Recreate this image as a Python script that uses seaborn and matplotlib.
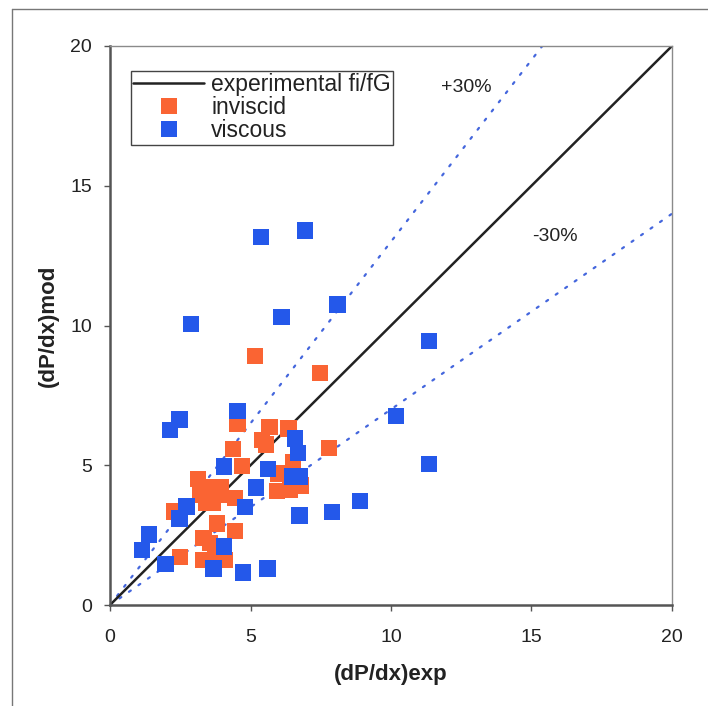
import numpy as np
import pandas as pd
import matplotlib
matplotlib.use("Agg")
import matplotlib.pyplot as plt
import seaborn as sns
from matplotlib.lines import Line2D

# ---------------- data ----------------
viscous_x = [5.37, 6.94, 2.89, 6.11, 8.10, 11.35, 10.18, 11.35, 8.90, 7.90, 6.74,
             5.60, 4.74, 3.68, 4.06, 1.98, 1.13, 1.39, 2.47, 2.73, 2.14, 2.47,
             4.53, 4.06, 4.80, 5.20, 5.63, 6.58, 6.70, 6.50, 6.76]
viscous_y = [13.17, 13.40, 10.05, 10.30, 10.75, 9.45, 6.76, 5.04, 3.72, 3.32, 3.20,
             1.30, 1.17, 1.31, 2.09, 1.47, 1.97, 2.52, 3.09, 3.52, 6.26, 6.64,
             6.95, 4.95, 3.50, 4.21, 4.86, 5.95, 5.43, 4.59, 4.59]

inviscid_x = [5.16, 7.48, 4.53, 5.67, 6.36, 5.40, 5.55, 4.37, 7.79, 4.70, 6.52, 5.99,
              3.14, 3.30, 3.66, 3.95, 3.20, 3.56, 3.86, 3.42, 3.66, 4.45, 5.94, 6.41,
              6.78, 2.28, 3.80, 4.45, 3.32, 3.56, 3.30, 3.74, 4.07, 2.49]
inviscid_y = [8.91, 8.31, 6.49, 6.37, 6.32, 5.90, 5.75, 5.59, 5.62, 4.97, 5.10, 4.71,
              4.50, 4.23, 4.23, 4.23, 3.94, 3.94, 3.94, 3.65, 3.65, 3.82, 4.08, 4.11,
              4.28, 3.35, 2.91, 2.65, 2.40, 2.22, 1.62, 1.72, 1.61, 1.72]

ref_x = [0, 20]          # experimental line y = x
band = 0.30              # +/- 30 %
ticks = [0, 5, 10, 15, 20]

series_names = ["inviscid", "viscous"]
series_colors = {"inviscid": "#FA6433", "viscous": "#2458EA"}

df = pd.concat([
    pd.DataFrame({"exp": inviscid_x, "mod": inviscid_y, "model": "inviscid"}),
    pd.DataFrame({"exp": viscous_x, "mod": viscous_y, "model": "viscous"}),
], ignore_index=True)

# ---------------- style ----------------
sns.set_theme(style="white")
plt.rcParams["font.family"] = ["Liberation Sans", "DejaVu Sans"]

fig = plt.figure(figsize=(7.08, 7.06), dpi=100)
ax = fig.add_axes([110 / 708, 1 - 605 / 706, 562 / 708, 559 / 706])

rx = np.array(ref_x, dtype=float)
dot_color = "#4466DD"
ax.plot(rx, rx * (1 + band), color=dot_color, lw=1.6, ls=(0, (1, 4.2)),
        dash_capstyle="round", zorder=1)
ax.plot(rx, rx * (1 - band), color=dot_color, lw=1.6, ls=(0, (1, 4.2)),
        dash_capstyle="round", zorder=1)
ax.plot(rx, rx, color="#222222", lw=1.8, zorder=2, label="experimental fi/fG")

sns.scatterplot(data=df, x="exp", y="mod", hue="model", hue_order=series_names,
                palette=series_colors, marker="s", s=140, linewidth=0,
                ax=ax, zorder=3)

ax.text(12.67, 18.5, "+30%", fontsize=14, ha="center", va="center", color="#222222")
ax.text(15.84, 13.17, "-30%", fontsize=14, ha="center", va="center", color="#222222")

ax.set_xlim(0, 20)
ax.set_ylim(0, 20)
ax.set_xticks(ticks)
ax.set_yticks(ticks)
ax.tick_params(axis="both", direction="out", length=4, width=1, color="#555555",
               labelsize=14, labelcolor="#222222", left=True, bottom=True)
ax.tick_params(axis="x", pad=13)
ax.tick_params(axis="y", pad=9)

ax.set_xlabel("(dP/dx)exp", fontsize=16, fontweight="bold", color="#222222")
ax.set_ylabel("(dP/dx)mod", fontsize=16, fontweight="bold", color="#222222")
ax.xaxis.set_label_coords(0.5, -0.105)
ax.yaxis.set_label_coords(-0.091, 0.5)

for side in ["left", "bottom"]:
    ax.spines[side].set_color("#555555")
    ax.spines[side].set_linewidth(1.8)
for side in ["top", "right"]:
    ax.spines[side].set_color("#8A8A8A")
    ax.spines[side].set_linewidth(1.0)

handles, labels = ax.get_legend_handles_labels()
leg = ax.legend(handles=handles, labels=labels, loc="upper left",
                bbox_to_anchor=(131 / 708, 1 - 71 / 706), bbox_transform=fig.transFigure,
                borderaxespad=0, fontsize=16.5, frameon=True, fancybox=False,
                edgecolor="#444444", framealpha=1, labelspacing=0.0,
                handlelength=3.1, handletextpad=0.3, borderpad=0.1)
leg.get_frame().set_linewidth(1.0)
for t in leg.get_texts():
    t.set_color("#222222")

# outer frame (top and left edges)
fig.add_artist(Line2D([12 / 708, 1.0], [1 - 9 / 706, 1 - 9 / 706],
                      transform=fig.transFigure, color="#777777", lw=1.0))
fig.add_artist(Line2D([12 / 708, 12 / 708], [1 - 9 / 706, 0.0],
                      transform=fig.transFigure, color="#777777", lw=1.0))

fig.savefig("out.png", dpi=100)
